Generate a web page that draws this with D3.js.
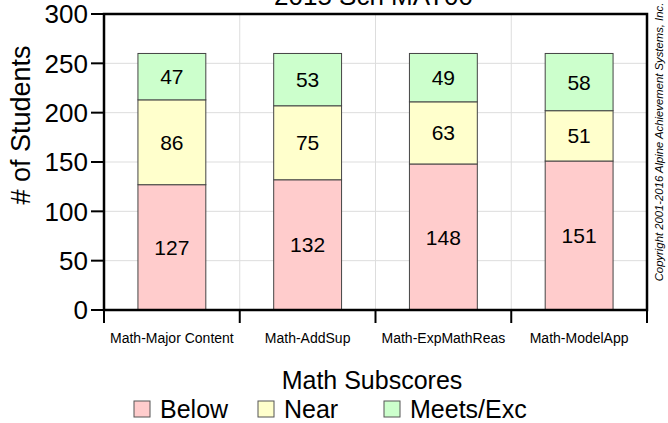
<!DOCTYPE html>
<html>
<head>
<meta charset="utf-8">
<script src="https://cdn.jsdelivr.net/npm/d3@7"></script>
<style>
  body { margin: 0; background: #fff; }
  text { font-family: "Liberation Sans", Arial, sans-serif; fill: #000; }
</style>
</head>
<body>
<div id="chart"></div>
<script>
'use strict';

// data
var categories = ["Math-Major Content", "Math-AddSup", "Math-ExpMathReas", "Math-ModelApp"];
var seriesNames = ["Below", "Near", "Meets/Exc"];
var below = [127, 132, 148, 151];
var near = [86, 75, 63, 51];
var meets = [47, 53, 49, 58];
var yTicks = [0, 50, 100, 150, 200, 250, 300];
var colors = ["#ffcccc", "#ffffcc", "#ccffcc"];

var svgWidth = 668, svgHeight = 423;
var plot = { left: 104, right: 647, top: 14, bottom: 310 };

var svg = d3.select("#chart").append("svg")
  .attr("width", svgWidth)
  .attr("height", svgHeight);

var x = d3.scaleBand()
  .domain(categories)
  .range([plot.left, plot.right])
  .paddingInner(0.5)
  .paddingOuter(0.25);

var y = d3.scaleLinear()
  .domain([0, 300])
  .range([plot.bottom, plot.top]);

// gridlines
svg.append("g").selectAll("line.hgrid")
  .data(yTicks.slice(1, -1))
  .enter().append("line")
  .attr("x1", plot.left).attr("x2", plot.right)
  .attr("y1", d => y(d)).attr("y2", d => y(d))
  .attr("stroke", "#dddddd").attr("stroke-width", 1);

var bounds = categories.map((c, i) => plot.left + i * x.step());
bounds.push(plot.right);

svg.append("g").selectAll("line.vgrid")
  .data(bounds.slice(1, -1))
  .enter().append("line")
  .attr("x1", d => d).attr("x2", d => d)
  .attr("y1", plot.top).attr("y2", plot.bottom)
  .attr("stroke", "#dddddd").attr("stroke-width", 1);

// stack data
var rows = categories.map((c, i) => ({ cat: c, "Below": below[i], "Near": near[i], "Meets/Exc": meets[i] }));
var stacked = d3.stack().keys(seriesNames)(rows);

var layers = svg.append("g").selectAll("g.layer")
  .data(stacked)
  .enter().append("g")
  .attr("fill", (d, i) => colors[i]);

layers.selectAll("rect")
  .data(d => d)
  .enter().append("rect")
  .attr("x", d => x(d.data.cat))
  .attr("width", x.bandwidth())
  .attr("y", d => y(d[1]))
  .attr("height", d => y(d[0]) - y(d[1]))
  .attr("stroke", "#444")
  .attr("stroke-width", 1);

layers.selectAll("text")
  .data(d => d.map(v => ({ v: v, val: v[1] - v[0] })))
  .enter().append("text")
  .attr("x", d => x(d.v.data.cat) + x.bandwidth() / 2)
  .attr("y", d => (y(d.v[0]) + y(d.v[1])) / 2)
  .attr("dy", "0.36em")
  .attr("text-anchor", "middle")
  .style("font-size", "21px")
  .text(d => d.val);

// frame
svg.append("rect")
  .attr("x", plot.left).attr("y", plot.top)
  .attr("width", plot.right - plot.left)
  .attr("height", plot.bottom - plot.top)
  .attr("fill", "none")
  .attr("stroke", "#000")
  .attr("stroke-width", 2.5);

// y axis ticks + labels
svg.append("g").selectAll("line.ytick")
  .data(yTicks)
  .enter().append("line")
  .attr("x1", plot.left - 13).attr("x2", plot.left)
  .attr("y1", d => y(d)).attr("y2", d => y(d))
  .attr("stroke", "#000").attr("stroke-width", 2);

svg.append("g").selectAll("text.ylab")
  .data(yTicks)
  .enter().append("text")
  .attr("x", plot.left - 16)
  .attr("y", d => y(d))
  .attr("dy", "0.36em")
  .attr("text-anchor", "end")
  .style("font-size", "26px")
  .text(d => d);

// x axis ticks + labels
svg.append("g").selectAll("line.xtick")
  .data(bounds)
  .enter().append("line")
  .attr("x1", d => d).attr("x2", d => d)
  .attr("y1", plot.bottom).attr("y2", plot.bottom + 13)
  .attr("stroke", "#000").attr("stroke-width", 2);

svg.append("g").selectAll("text.xlab")
  .data(categories)
  .enter().append("text")
  .attr("x", d => x(d) + x.bandwidth() / 2)
  .attr("y", plot.bottom + 33)
  .attr("text-anchor", "middle")
  .style("font-size", "14px")
  .text(d => d);

// titles
svg.append("text")
  .attr("x", (plot.left + plot.right) / 2 - 2)
  .attr("y", 5)
  .attr("text-anchor", "middle")
  .style("font-size", "26px")
  .text("2015 Sch MAT00");

svg.append("text")
  .attr("transform", "translate(30," + 125 + ") rotate(-90)")
  .attr("text-anchor", "middle")
  .style("font-size", "27px")
  .text("# of Students");

svg.append("text")
  .attr("x", 372)
  .attr("y", 389)
  .attr("text-anchor", "middle")
  .style("font-size", "25px")
  .text("Math Subscores");

svg.append("text")
  .attr("transform", "translate(663," + 142 + ") rotate(-90)")
  .attr("text-anchor", "middle")
  .style("font-size", "11.3px")
  .style("font-style", "italic")
  .text("Copyright 2001-2016 Alpine Achievement Systems, Inc.");

// legend
var legendX = [134, 258, 384];
var legend = svg.append("g").selectAll("g.leg")
  .data(seriesNames)
  .enter().append("g")
  .attr("transform", (d, i) => "translate(" + legendX[i] + ",401)");

legend.append("rect")
  .attr("width", 16).attr("height", 16)
  .attr("fill", (d, i) => colors[i])
  .attr("stroke", "#555").attr("stroke-width", 1);

legend.append("text")
  .attr("x", 26)
  .attr("y", 17)
  .style("font-size", "25px")
  .text(d => d);
</script>
</body>
</html>
